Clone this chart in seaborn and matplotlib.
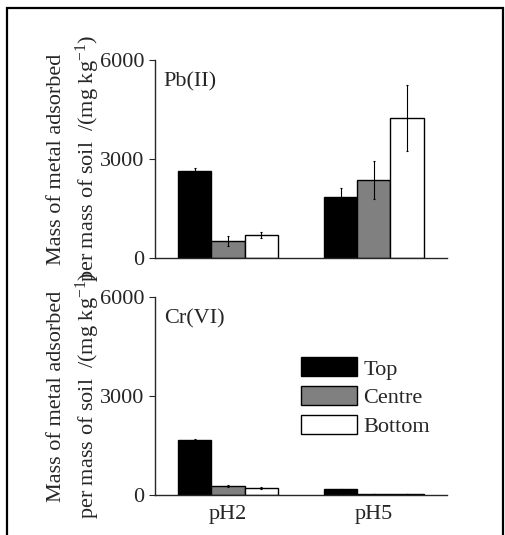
import numpy as np
import pandas as pd
import matplotlib
matplotlib.use("Agg")
import matplotlib.pyplot as plt
import seaborn as sns
from matplotlib.patches import Rectangle

# values (mg/kg)
ph_levels = ["pH2", "pH5"]
positions = ["Top", "Centre", "Bottom"]

pb_mean = {"Top": [2640, 1860], "Centre": [515, 2350], "Bottom": [690, 4250]}
pb_err = {"Top": [90, 250], "Centre": [150, 580], "Bottom": [80, 1000]}

cr_mean = {"Top": [1670, 170], "Centre": [270, 30], "Bottom": [200, 30]}
cr_err = {"Top": [30, 10], "Centre": [25, 5], "Bottom": [25, 5]}

bar_colors = ["#000000", "#808080", "#ffffff"]


def to_frame(means):
    rows = []
    for pos in positions:
        for ph, v in zip(ph_levels, means[pos]):
            rows.append({"pH": ph, "position": pos, "value": v})
    return pd.DataFrame(rows)


sns.set_style("ticks")
plt.rcParams["font.family"] = ["Liberation Serif", "DejaVu Serif"]
plt.rcParams["mathtext.fontset"] = "custom"
plt.rcParams["mathtext.rm"] = "Liberation Serif"
plt.rcParams["mathtext.it"] = "Liberation Serif:italic"
plt.rcParams["font.size"] = 16

fig = plt.figure(figsize=(5.05, 5.35), dpi=100)
ax_top = fig.add_axes([0.307, 0.518, 0.578, 0.370])
ax_bot = fig.add_axes([0.307, 0.075, 0.578, 0.370])

panels = [(ax_top, pb_mean, pb_err, "Pb(II)"), (ax_bot, cr_mean, cr_err, "Cr(VI)")]

for ax, means, errs, name in panels:
    df = to_frame(means)
    sns.barplot(data=df, x="pH", y="value", hue="position", order=ph_levels,
                hue_order=positions, palette=bar_colors, edgecolor="black",
                linewidth=1, width=0.68, errorbar=None, ax=ax)

    # error bars at the bar centres
    for i, pos in enumerate(positions):
        bars = ax.containers[i]
        xs = [b.get_x() + b.get_width() / 2 for b in bars]
        ax.errorbar(xs, means[pos], yerr=errs[pos], fmt="none",
                    ecolor="black", elinewidth=0.8, capsize=1, capthick=0.8)

    ax.set_xlim(-0.5, 1.5)
    ax.set_ylim(0, 6000)
    ax.set_yticks([0, 3000, 6000])
    ax.set_xlabel("")
    ax.set_ylabel("Mass of metal adsorbed\nper mass of soil  /(mg kg$^{\\mathrm{-1}}$)",
                  fontsize=16, linespacing=1.4)
    ax.yaxis.set_label_coords(-0.18, 0.5)
    ax.text(0.03, 0.89, name, transform=ax.transAxes, fontsize=16,
            va="center", ha="left")
    sns.despine(ax=ax)
    ax.tick_params(axis="y", direction="out", length=4, width=0.8, labelsize=16)
    ax.tick_params(axis="x", length=0, labelsize=16, pad=7)
    for s in ["left", "bottom"]:
        ax.spines[s].set_linewidth(1)

ax_top.set_xticklabels([])
ax_top.get_legend().remove()

handles, labels = ax_bot.get_legend_handles_labels()
ax_bot.legend(handles, labels, loc="upper left", bbox_to_anchor=(0.5, 0.695),
              frameon=False, fontsize=16, handlelength=2.5, handleheight=0.95,
              handletextpad=0.3, labelspacing=0.3, borderaxespad=0,
              borderpad=0)

# outer frame around the figure
fig.patches.append(Rectangle((7 / 505, -0.02), 496 / 505, 1 - 8 / 535 + 0.02,
                             transform=fig.transFigure, fill=False,
                             edgecolor="black", linewidth=1.6))

fig.savefig("out.png", dpi=100)
